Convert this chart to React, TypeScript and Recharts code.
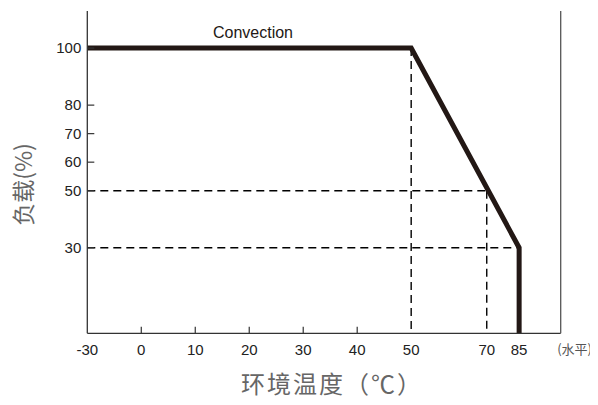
import React from "react";
import { LineChart, Line, XAxis, YAxis, ReferenceLine } from "recharts";

// x-axis tick temperatures and their (non-uniform) axis positions
const tempTicks = [-30, 0, 10, 20, 30, 40, 50, 70, 85];
const tickPos = [0, 1, 2, 3, 4, 5, 6, 7.4, 8];
const innerTickTemps = [0, 10, 20, 30, 40];
const xMax = 8.77;

// derating curve
const curveTemp = [-30, 50, 85, 85];
const curveLoad = [100, 100, 30, 0];

// y ticks
const yTicksLeft = [30, 50, 60, 70, 80, 100];
const yTicksRight = [20, 40, 60, 80, 100];
const yMax = 113;

// dashed guide segments [t1, load1, t2, load2]
const guides: [number, number, number, number][] = [
  [50, 100, 50, 0],
  [70, 50, 70, 0],
  [-30, 50, 70, 50],
  [-30, 30, 85, 30],
];

const toPos = (t: number) => {
  for (let i = 0; i < tempTicks.length - 1; i++) {
    if (t <= tempTicks[i + 1]) {
      const f = (t - tempTicks[i]) / (tempTicks[i + 1] - tempTicks[i]);
      return tickPos[i] + f * (tickPos[i + 1] - tickPos[i]);
    }
  }
  return tickPos[tickPos.length - 1];
};

const curveData = curveTemp.map((t, i) => ({ x: toPos(t), y: curveLoad[i] }));

const NUM_FONT = "'Liberation Sans Narrow', 'Arial Narrow', 'Liberation Sans', Arial, sans-serif";
const CJK_FONT = "'Noto Sans CJK SC', sans-serif";
const AXIS = "#333";

const XTick = (props: any) => {
  const { x, y, payload } = props;
  const idx = tickPos.indexOf(payload.value);
  const t = tempTicks[idx];
  return (
    <g>
      {innerTickTemps.includes(t) && (
        <line x1={x} y1={y} x2={x} y2={y - 6.5} stroke={AXIS} strokeWidth={1.2} />
      )}
      <text x={x} y={y + 21.5} textAnchor="middle" fontFamily={NUM_FONT} fontSize={15} fill="#222">
        {t}
      </text>
    </g>
  );
};

const YTickLeft = (props: any) => {
  const { x, y, payload } = props;
  return (
    <g>
      <line x1={x + 6} y1={y} x2={x + 13} y2={y} stroke={AXIS} strokeWidth={1.2} />
      <text x={x} y={y + 5.2} textAnchor="end" fontFamily={NUM_FONT} fontSize={15} fill="#222">
        {payload.value}
      </text>
    </g>
  );
};

const YTickRight = (props: any) => {
  const { x, y } = props;
  return <line x1={x} y1={y} x2={x - 7} y2={y} stroke={AXIS} strokeWidth={1.2} />;
};

export default function App() {
  return (
    <LineChart
      width={590}
      height={397}
      data={curveData}
      margin={{ top: 3, right: 0, left: 0, bottom: 0 }}
    >
      <XAxis
        xAxisId="b"
        type="number"
        dataKey="x"
        domain={[0, xMax]}
        ticks={tickPos}
        interval={0}
        height={71.7}
        tickSize={0}
        tickMargin={0}
        tick={<XTick />}
        axisLine={{ stroke: AXIS, strokeWidth: 1.3 }}
        tickLine={false}
      />
      <XAxis
        xAxisId="t"
        orientation="top"
        type="number"
        domain={[0, xMax]}
        height={0}
        tick={false}
        tickLine={false}
        axisLine={{ stroke: "#555", strokeWidth: 1.3 }}
      />
      <YAxis
        yAxisId="l"
        type="number"
        domain={[0, yMax]}
        ticks={yTicksLeft}
        interval={0}
        width={79.3}
        tickSize={0}
        tickMargin={6}
        tick={<YTickLeft />}
        tickLine={false}
        axisLine={{ stroke: AXIS, strokeWidth: 1.3 }}
      />
      <YAxis
        yAxisId="r"
        orientation="right"
        type="number"
        domain={[0, yMax]}
        ticks={yTicksRight}
        interval={0}
        width={37.3}
        tickSize={0}
        tickMargin={0}
        tick={<YTickRight />}
        tickLine={false}
        axisLine={{ stroke: "#555", strokeWidth: 1.3 }}
      />
      {guides.map((g, i) => (
        <ReferenceLine
          key={i}
          xAxisId="b"
          yAxisId="l"
          segment={[
            { x: toPos(g[0]), y: g[1] },
            { x: toPos(g[2]), y: g[3] },
          ]}
          stroke="#000"
          strokeWidth={1.4}
          strokeDasharray="8 5"
        />
      ))}
      <Line
        xAxisId="b"
        yAxisId="l"
        dataKey="y"
        type="linear"
        stroke="#231815"
        strokeWidth={5}
        dot={false}
        isAnimationActive={false}
        strokeLinejoin="miter"
      />
      <text x={245} y={29.5} textAnchor="middle" fontFamily={NUM_FONT} fontSize={16} fill="#231815">
        Convection
      </text>
      <text x={324} y={385} textAnchor="middle" fontFamily={CJK_FONT} fontSize={24} fill="#666" letterSpacing={2}>
        环境温度（℃）
      </text>
      <text x={584} y={346} textAnchor="end" fontFamily={CJK_FONT} fontSize={13} fill="#555">
        (水平)
      </text>
      <text
        x={14}
        y={176.5}
        textAnchor="middle"
        fontFamily={CJK_FONT}
        fontSize={23}
        fill="#666"
        transform="rotate(-90 14 176.5)"
        dominantBaseline="central"
      >
        负载(%)
      </text>
    </LineChart>
  );
}
